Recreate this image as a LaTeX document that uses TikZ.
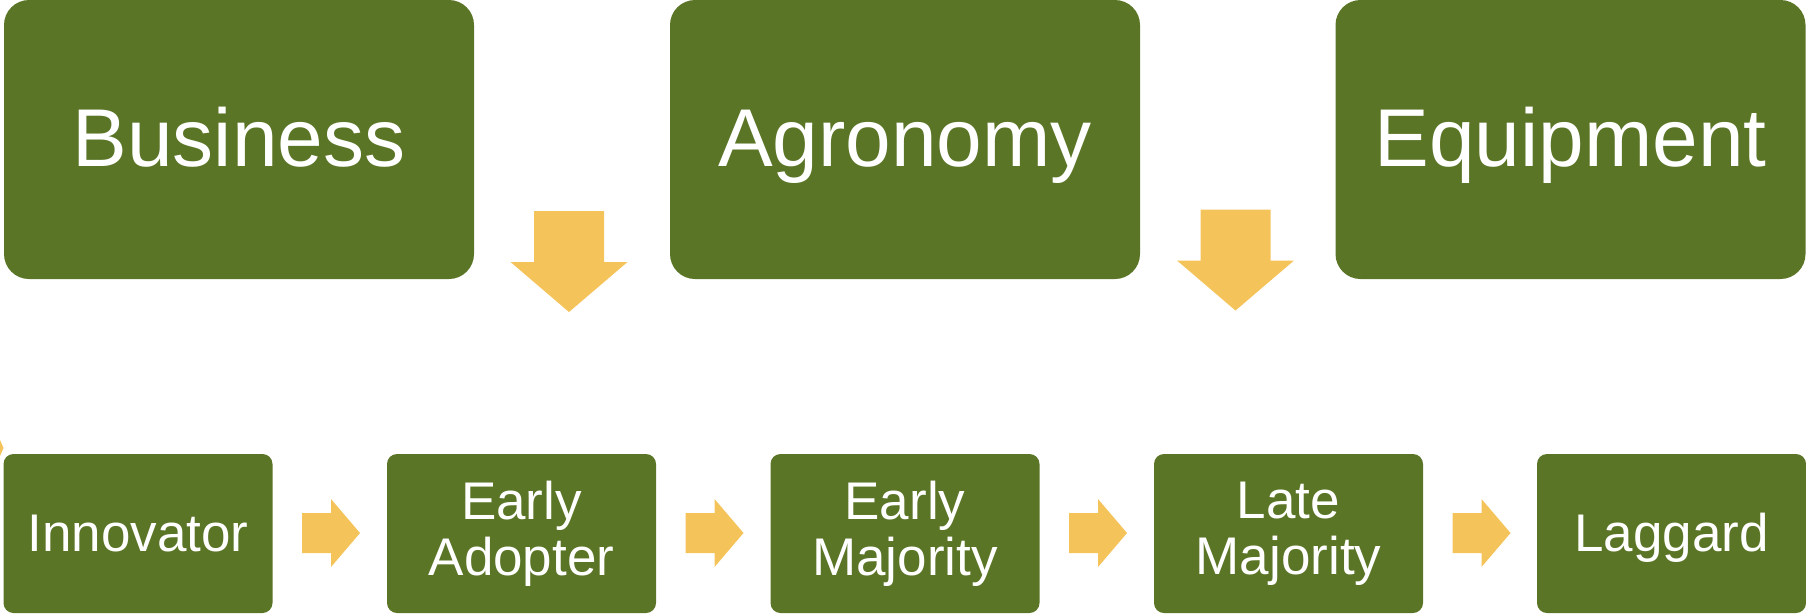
\documentclass[tikz,border=0pt]{standalone}
\usepackage{fontspec}
\setmainfont{Liberation Sans}
\definecolor{boxgreen}{RGB}{91,117,39}
\definecolor{arrowy}{RGB}{244,195,90}
\tikzset{
  topbox/.style={fill=boxgreen, rounded corners=25pt, minimum width=470pt, minimum height=279pt,
    inner sep=0pt, text=white, font=\fontsize{82}{94}\selectfont, text height=58pt, text depth=5pt},
  lowbox/.style={fill=boxgreen, rounded corners=10pt, minimum width=269pt, minimum height=159pt,
    inner sep=0pt, text=white, align=center, font=\fontsize{53}{56}\selectfont},
  oneline/.style={text height=38pt, text depth=3pt},
  blk/.style={fill=arrowy, draw=none},
  downarr/.pic={\fill[blk] (-35,0) -- (35,0) -- (35,51) -- (58.5,51) -- (0,101) -- (-58.5,51) -- (-35,51) -- cycle;},
  rightarr/.pic={\fill[blk] (0,-20) -- (29,-20) -- (29,-34) -- (58,0) -- (29,34) -- (29,20) -- (0,20) -- cycle;}
}
\begin{document}
\begin{tikzpicture}[x=1pt,y=-1pt]
\useasboundingbox (0,0) rectangle (1806,614);
% top row
\node[topbox] (bus) at (239,139.5) {Business};
\node[topbox] (agr) at (905,139.5) {Agronomy};
\node[topbox] (equ) at (1570.5,139.5) {Equipment};
% bottom row
\node[lowbox,oneline] (inn) at (138,533.5) {Innovator};
\node[lowbox] (ead) at (521.5,533.5) {Early\\Adopter};
\node[lowbox] (ema) at (905,533.5) {Early\\Majority};
\node[lowbox] (lma) at (1288.5,533.5) {Late\\Majority};
\node[lowbox,oneline] (lag) at (1671.5,533.5) {Laggard};
% down arrows
\pic at (569,211) {downarr};
\pic at (1235.5,209.5) {downarr};
% right arrows
\pic at (302,533) {rightarr};
\pic at (685.5,533) {rightarr};
\pic at (1069,533) {rightarr};
\pic at (1452.5,533) {rightarr};
% cut-off arrow tip at the left edge
\fill[blk] (0,440) -- (3.5,448) -- (0,456) -- cycle;
\end{tikzpicture}
\end{document}
